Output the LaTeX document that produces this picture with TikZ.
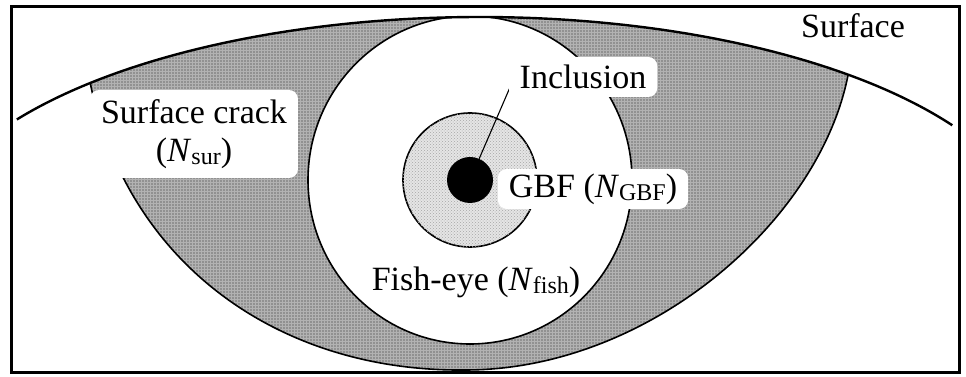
\documentclass[tikz,border=0pt]{standalone}
\usepackage{fontspec}
\setmainfont{Liberation Serif}
\usetikzlibrary{patterns}
\newcommand{\subtxt}[1]{\raisebox{-0.1em}{\fontsize{24}{24}\selectfont #1}}

\begin{document}
\begin{tikzpicture}[x=1pt, y=1pt,
    every node/.style={font=\fontsize{34}{38}\selectfont, align=center},
    lbl/.style={fill=white, rounded corners=9pt, inner xsep=11pt, inner ysep=2pt, minimum height=40pt},
    rim/.style={line width=1.6pt},
    crackfill/.style={fill=black!43, postaction={pattern=grid, pattern color=black!30}},
    gbffill/.style={fill=black!10, postaction={pattern=crosshatch dots, pattern color=black!35}}]
  \useasboundingbox (0,0) rectangle (966,377);
  \coordinate (core) at (470,197);
  \coordinate (surfC) at (480,126);
  \coordinate (crackL) at (90.2,294);
  \coordinate (crackR) at (848.1,302.3);
  % crack region
  \path[crackfill] (crackL) arc[start angle=134.1, end angle=48.9, x radius=560, y radius=234]
     .. controls (820,157) and (650,7) .. (465,7) .. controls (280,5) and (128,112) .. (crackL) -- cycle;
  \draw[rim] (crackR) .. controls (820,157) and (650,7) .. (465,7) .. controls (280,5) and (128,112) .. (crackL);
  % fish-eye, cut by the surface
  \begin{scope}
    \clip (surfC) ellipse [x radius=560, y radius=234];
    \draw[rim, fill=white] (core) ellipse [x radius=162, y radius=164];
  \end{scope}
  \draw[rim, gbffill] (core) circle [radius=67];
  \node[circle, fill=black, minimum size=46pt, inner sep=0pt] (incl) at (core) {};
  \coordinate (leadEnd) at (511,292);
  \draw[line width=1.1pt] (incl) -- (leadEnd);
  % labels
  \node[lbl] (lblIncl) at (583,300) {Inclusion};
  \node[lbl] (lblGbf) at (593,188) {GBF (\textit{N}\subtxt{GBF})};
  \node[lbl, minimum height=88pt] (lblCrack) at (194,243) {Surface crack\\(\textit{N}\subtxt{sur})};
  \node (lblFish) at (476,95) {Fish-eye (\textit{N}\subtxt{fish})};
  \node (lblSurf) at (853,351) {Surface};
  % surface line and frame
  \draw[line width=2.4pt] (surfC) ++(145.8:560 and 234) arc[start angle=145.8, end angle=32.5, x radius=560, y radius=234];
  \draw[line width=3pt] (11,4) rectangle (959,370);
\end{tikzpicture}
\end{document}
